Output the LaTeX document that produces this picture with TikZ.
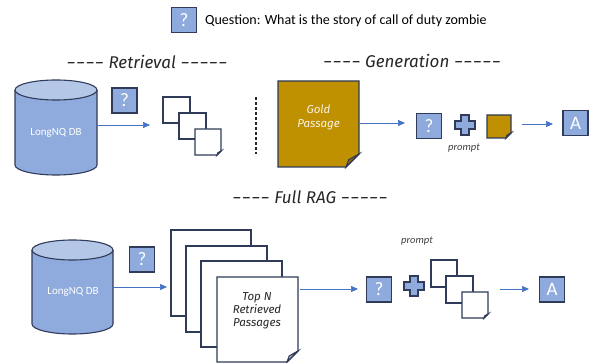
\documentclass[tikz,border=0pt]{standalone}
\usepackage{fontspec}
\usepackage{graphicx}
\setmainfont{Carlito}
\newfontfamily\hand{Fira Sans}
\usetikzlibrary{arrows.meta,calc}
\definecolor{boxblue}{HTML}{8FAADC}
\definecolor{navy}{HTML}{2F3B59}
\definecolor{lightblue}{HTML}{B4C7E7}
\definecolor{gold}{HTML}{BF9000}
\definecolor{arr}{HTML}{4472C4}
\newcommand\hy{\scalebox{1.4}[1]{-}}
\tikzset{
  qbox/.style={draw=navy, fill=boxblue, line width=1.1pt, minimum width=25pt, minimum height=25pt, inner sep=0pt, text=white, font=\fontsize{19}{19}\selectfont},
  flow/.style={draw=arr, line width=0.7pt, -{Triangle[length=7pt,width=6pt]}},
  docline/.style={draw=navy, line width=1.1pt, line join=miter},
  heading/.style={font=\hand\itshape\fontsize{17}{19}\selectfont, text=black!85},
  handtext/.style={font=\hand\itshape\fontsize{11.5}{13}\selectfont, align=center},
  promptlbl/.style={font=\itshape\fontsize{10.5}{12}\selectfont, text=black!75},
  plusst/.style={draw=navy, fill=boxblue, line width=1.1pt, line join=miter},
  dbtext/.style={text=white, font=\fontsize{11}{12}\selectfont},
}
% plain document: name, x1, y1, x2, y2, fill
\newcommand\pdoc[6]{%
  \draw[docline, fill=#6] (#2,#3) rectangle (#4,#5);
  \coordinate (#1) at ({(#2+#4)/2},{(#3+#5)/2});
}
% document with folded corner: name, x1, y1, x2, y2, fill, fold size
\newcommand\pdocf[7]{%
  \draw[docline, fill=#6] (#2,#3) -- (#4,#3) -- (#4,#5-#7) -- (#4-#7,#5) -- (#2,#5) -- cycle;
  \draw[docline, fill=#6!75!black] (#4,#5-#7) -- (#4-#7,#5) -- (#4-0.8*#7,#5-0.55*#7) -- cycle;
  \coordinate (#1) at ({(#2+#4)/2},{(#3+#5)/2});
}
% cylinder: name, x1, x2, ytop-centre, ybottom-centre, ry
\newcommand\pcyl[6]{%
  \fill[boxblue] (#2,#4) -- (#2,#5) .. controls (#2,#5+0.5523*#6) and ({(#2+#3)/2-0.5523*(#3-#2)/2},#5+#6) .. ({(#2+#3)/2},#5+#6) .. controls ({(#2+#3)/2+0.5523*(#3-#2)/2},#5+#6) and (#3,#5+0.5523*#6) .. (#3,#5) -- (#3,#4) -- cycle;
  \draw[docline] (#2,#4) -- (#2,#5) .. controls (#2,#5+0.5523*#6) and ({(#2+#3)/2-0.5523*(#3-#2)/2},#5+#6) .. ({(#2+#3)/2},#5+#6) .. controls ({(#2+#3)/2+0.5523*(#3-#2)/2},#5+#6) and (#3,#5+0.5523*#6) .. (#3,#5) -- (#3,#4);
  \draw[docline, fill=lightblue] ({(#2+#3)/2},#4) ellipse[x radius={(#3-#2)/2}, y radius=#6];
}
\begin{document}
\begin{tikzpicture}[x=1pt,y=-1pt]
\useasboundingbox (0,0) rectangle (590,363);

% ---------- top question ----------
\node[qbox] (q0) at (184,20) {?};
\node[anchor=west, font=\fontsize{14}{16}\selectfont, inner sep=0pt] (qtext) at (205,20.5) {Question: What is the story of call of duty zombie};

% ---------- Retrieval ----------
\node[heading] (hret) at (147,62) {\hy\hy\hy\hy{} Retrieval \hy\hy\hy\hy\hy};
\pcyl{db1}{15}{97}{90}{165}{10}
\node[dbtext] (db1t) at (56,133) {LongNQ DB};
\node[qbox] (q1) at (124.5,100.5) {?};
\coordinate (db1r) at (97,125);
\coordinate (r1end) at (150,125);
\draw[flow] (db1r) -- (r1end);
\pdoc{rd1}{163}{97}{190}{123}{white}
\pdoc{rd2}{179}{113}{206}{139}{white}
\pdocf{rd3}{195}{129}{221}{155}{white}{4}
\coordinate (dl1) at (256,97);
\coordinate (dl2) at (256,154);
\draw[black!85, line width=1.2pt, dash pattern=on 3pt off 2pt] (dl1) -- (dl2);

% ---------- Generation ----------
\node[heading] (hgen) at (412,61) {\hy\hy\hy\hy{} Generation \hy\hy\hy\hy\hy};
\pdocf{gold}{278}{81}{359}{167}{gold}{13}
\node[handtext, text=white!90!gold] (goldt) at (318.5,117) {Gold\\[1pt]Passage};
\coordinate (g1s) at (359,123);
\coordinate (g1e) at (405,123);
\draw[flow] (g1s) -- (g1e);
\node[qbox] (q2) at (429,126) {?};
\coordinate (p1) at (465,125);
\draw[plusst] (p1) ++(-4,-10) -- ++(8,0) -- ++(0,6) -- ++(6,0) -- ++(0,8) -- ++(-6,0) -- ++(0,6) -- ++(-8,0) -- ++(0,-6) -- ++(-6,0) -- ++(0,-8) -- ++(6,0) -- cycle;
\node[promptlbl] (pr1) at (464,148) {prompt};
\pdocf{gold2}{487}{115}{511}{138}{gold}{5}
\coordinate (g2s) at (522,124);
\coordinate (g2e) at (553,124);
\draw[flow] (g2s) -- (g2e);
\node[qbox] (a1) at (575.5,123) {A};

% ---------- Full RAG ----------
\node[heading] (hrag) at (310,197) {\hy\hy\hy\hy{} Full RAG \hy\hy\hy\hy\hy};
\pcyl{db2}{32}{113}{250}{324}{10}
\node[dbtext] (db2t) at (73,292) {LongNQ DB};
\node[qbox] (q3) at (142,259.5) {?};
\coordinate (db2r) at (113,287);
\coordinate (f1e) at (167,287);
\draw[flow] (db2r) -- (f1e);
\pdoc{fd1}{171}{230}{251}{316}{white}
\pdoc{fd2}{186}{246}{267}{332}{white}
\pdoc{fd3}{201}{261}{282}{347}{white}
\pdocf{fd4}{217}{277}{298}{362}{white}{11}
\node[handtext, text=black!85] (topn) at (257,311) {Top N\\Retrieved\\Passages};
\coordinate (f2s) at (300,289);
\coordinate (f2e) at (358,289);
\draw[flow] (f2s) -- (f2e);
\node[qbox] (q4) at (379,289.5) {?};
\coordinate (p2) at (414,286);
\draw[plusst] (p2) ++(-4,-10) -- ++(8,0) -- ++(0,6) -- ++(6,0) -- ++(0,8) -- ++(-6,0) -- ++(0,6) -- ++(-8,0) -- ++(0,-6) -- ++(-6,0) -- ++(0,-8) -- ++(6,0) -- cycle;
\node[promptlbl] (pr2) at (417,241) {prompt};
\pdoc{sd1}{431}{260}{457}{287}{white}
\pdoc{sd2}{446}{276}{473}{303}{white}
\pdocf{sd3}{462}{292}{488}{318}{white}{4}
\coordinate (f3s) at (500,289);
\coordinate (f3e) at (529,289);
\draw[flow] (f3s) -- (f3e);
\node[qbox] (a2) at (552,289.5) {A};
\end{tikzpicture}
\end{document}
